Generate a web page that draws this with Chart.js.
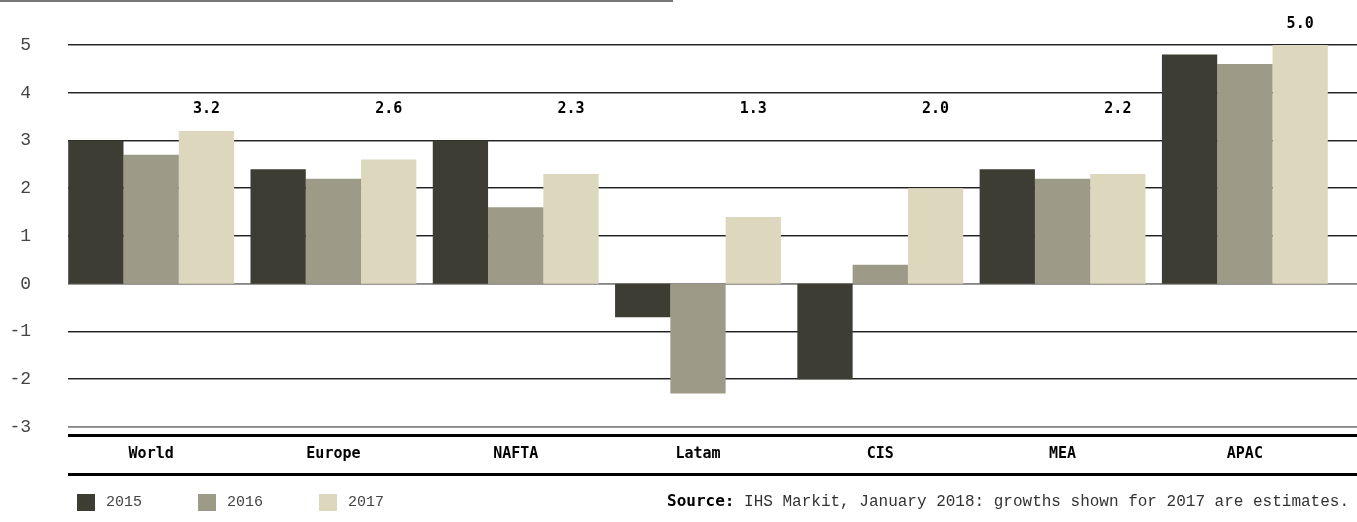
<!DOCTYPE html>
<html>
<head>
<meta charset="utf-8">
<script src="https://cdn.jsdelivr.net/npm/chart.js@4.4.1/dist/chart.umd.min.js"></script>
<style>
  html, body { margin: 0; padding: 0; background: #fff; }
  #wrap { width: 1357px; height: 522px; position: relative; }
</style>
</head>
<body>
<div id="wrap"><canvas id="myChart" width="1357" height="522"></canvas></div>
<script>
// growth by region
const regions = ['World', 'Europe', 'NAFTA', 'Latam', 'CIS', 'MEA', 'APAC']
const years = ['2015', '2016', '2017']
const growth2015 = [3.0, 2.4, 3.0, -0.7, -2.0, 2.4, 4.8]
const growth2016 = [2.7, 2.2, 1.6, -2.3, 0.4, 2.2, 4.6]
const growth2017 = [3.2, 2.6, 2.3, 1.4, 2.0, 2.3, 5.0]
const labels2017 = ['3.2', '2.6', '2.3', '1.3', '2.0', '2.2', '5.0']
const yTicks = [5, 4, 3, 2, 1, 0, -1, -2, -3]
const sourceBold = 'Source:'
const sourceText = ' IHS Markit, January 2018: growths shown for 2017 are estimates.'

const colors = ['#3d3d33', '#9d9a87', '#dcd7bd']
const mono = '"DejaVu Sans Mono", "Liberation Mono", monospace'
const thin = '"Liberation Mono", "DejaVu Sans Mono", monospace'

// gridlines, axis rules, value labels, legend and source line
const decorations = {
  id: 'decorations',
  beforeDatasetsDraw(chart) {
    const ctx = chart.ctx
    const y = chart.scales.y
    const W = chart.width
    ctx.save()
    // top rule
    ctx.fillStyle = '#777'
    ctx.fillRect(0, 0, 673, 2)
    yTicks.forEach(v => {
      const py = Math.round(y.getPixelForValue(v))
      ctx.fillStyle = (v === -3 || v === 0) ? '#888' : '#222'
      ctx.fillRect(68, py - 1, W - 68, 1)
      ctx.fillStyle = '#999'
      ctx.fillRect(68, py, W - 68, 1)
    })
    ctx.restore()
  },
  afterDraw(chart) {
    const ctx = chart.ctx
    const x = chart.scales.x
    const y = chart.scales.y
    const W = chart.width
    ctx.save()
    // thick rules around the category labels
    ctx.fillStyle = '#000'
    ctx.fillRect(68, x.top + 7, W - 68, 3)
    ctx.fillRect(68, x.top + 46, W - 68, 3)

    // value labels over the 2017 bars
    const meta = chart.getDatasetMeta(2)
    ctx.font = 'bold 15px ' + mono
    ctx.fillStyle = '#000'
    ctx.textAlign = 'center'
    ctx.textBaseline = 'middle'
    meta.data.forEach((bar, i) => {
      const v = Math.max(growth2017[i] + 0.44, 3.66)
      ctx.fillText(labels2017[i], bar.x, y.getPixelForValue(v))
    })

    // legend
    ctx.font = '15px ' + thin
    ctx.textAlign = 'left'
    chart.data.datasets.forEach((ds, i) => {
      const lx = 77 + i * 121
      ctx.fillStyle = ds.backgroundColor
      ctx.fillRect(lx, 494, 18, 17)
      ctx.fillStyle = '#444'
      ctx.fillText(ds.label, lx + 29, 502)
    })

    // source line
    ctx.font = '16px ' + mono
    const wRest = ctx.measureText(sourceText).width
    ctx.font = 'bold 16px ' + mono
    const wBold = ctx.measureText(sourceBold).width
    const sx = 1351 - wRest - wBold
    ctx.fillStyle = '#000'
    ctx.fillText(sourceBold, sx, 502)
    ctx.font = '16px ' + thin
    ctx.fillStyle = '#333'
    ctx.fillText(sourceText, sx + wBold, 502)
    ctx.restore()
  }
}

const ctx = document.getElementById('myChart').getContext('2d')
const chart = new Chart(ctx, {
  type: 'bar',
  data: {
    labels: regions,
    datasets: [
      { label: years[0], data: growth2015, backgroundColor: colors[0] },
      { label: years[1], data: growth2016, backgroundColor: colors[1] },
      { label: years[2], data: growth2017, backgroundColor: colors[2] }
    ]
  },
  options: {
    responsive: false,
    animation: false,
    layout: { padding: { left: 0, top: 45, right: 21, bottom: 0 } },
    datasets: { bar: { categoryPercentage: 0.91, barPercentage: 1.0 } },
    plugins: { legend: { display: false }, tooltip: { enabled: false } },
    scales: {
      x: {
        grid: { display: false, drawTicks: false },
        border: { display: false },
        ticks: {
          padding: 18,
          color: '#000',
          font: { family: mono, size: 15, weight: 'bold' }
        },
        afterFit(scale) { scale.height = 95 }
      },
      y: {
        min: -3,
        max: 5,
        grid: { display: false, drawTicks: false },
        border: { display: false },
        afterBuildTicks(scale) { scale.ticks = yTicks.map(v => ({ value: v })) },
        ticks: {
          padding: 29,
          color: '#444',
          font: { family: thin, size: 18 }
        },
        afterFit(scale) { scale.width = 60 }
      }
    }
  },
  plugins: [decorations]
})
</script>
</body>
</html>
